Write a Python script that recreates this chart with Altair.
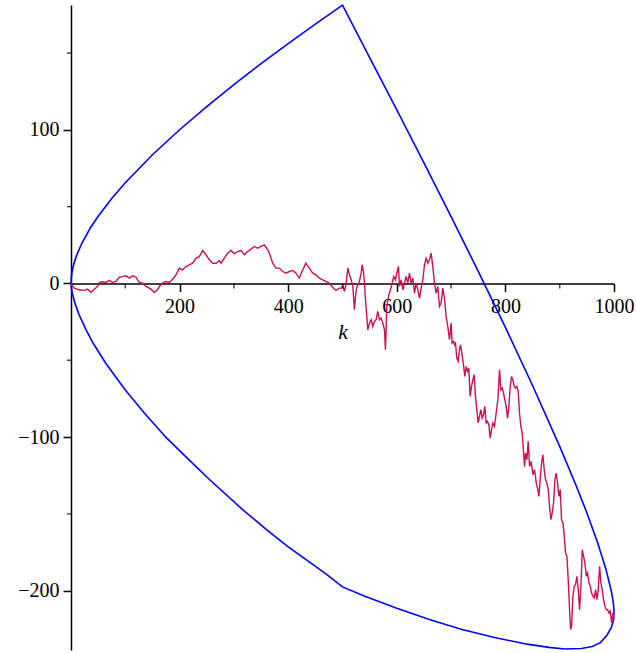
import altair as alt
import pandas as pd

# ---------------- data ----------------
walk_k = [0, 6, 15, 24.5, 30.7, 36.8, 42.9, 49.1, 52.2, 58.3, 64.4, 70.6, 76.7, 82.8, 89, 95.1,
          101.3, 107.4, 113.5, 119.7, 125.8, 131.9, 138.1, 147.3, 153.4, 159.6, 162.6, 168.8,
          174.9, 181, 187.2, 193.3, 199.5, 205.6, 211.7, 217.9, 224, 230.2, 236.3, 242.4,
          248.6, 254.8, 260.9, 267.1, 273.2, 276.3, 282.4, 288.5, 294.7, 300.8, 307, 313.1,
          319.2, 325.4, 331.5, 337.7, 343.8, 349.9, 356.1, 362.2, 365.3, 371.4, 377.6, 383.7,
          389.8, 396, 402.1, 408.3, 414.4, 420.5, 426.7, 432.8, 439, 445.1, 451.2, 457.4,
          463.5, 469.7, 475.8, 481.9, 488.1, 494.2, 499.1,
          500.5, 503.6, 506.7, 509.8, 512.8, 515.9, 519.0, 522.0, 525.1, 528.2, 531.2, 534.3,
          536.2, 538.6, 540.5, 542.3, 544.8, 546.6, 549.7, 552.8, 555.8, 558.9, 562.0, 565.0,
          568.1, 571.2, 574.2, 577.3, 579.1, 581.6, 585.3, 588.4, 591.4, 594.5, 597.6, 600.6,
          603.1, 604.9, 608.0, 611.1, 614.1, 617.2, 620.3, 623.3, 626.4, 629.5, 632.6, 635.6,
          638.7, 641.8, 644.8, 647.9, 651.0, 654.0, 657.1, 660.2, 663.2, 666.3, 669.4, 672.4,
          675.5, 678.6, 681.6, 684.7, 687.8, 690.8, 693.9, 697.0,
          700.1, 701.9, 704.4, 706.2, 708.1, 710.5, 713.0, 715.5, 717.3, 719.8, 722.8, 725.3,
          727.7, 730.2, 732.6, 735.1, 737.6, 740.0, 742.5, 744.9, 747.4, 749.8, 752.3, 754.8,
          757.2, 759.7, 762.1, 764.6, 767.0, 769.5, 772.0, 774.4, 776.9, 779.9, 783.0, 786.1,
          789.2, 791.6, 794.1, 796.5, 799.0, 801.4, 803.9, 806.4, 808.8, 811.3, 813.7, 816.2,
          818.6, 821.1, 823.6, 826.0, 828.5, 830.9,
          832.2, 835.3, 837.1, 839.6, 842.0, 844.5, 847.5, 850.6, 853.7, 856.8, 859.8, 861.7,
          864.1, 866.6, 869.0, 871.5, 873.9, 876.4, 878.9, 881.3, 883.8, 886.2, 888.7, 891.2,
          893.6, 896.1, 898.5, 901.0, 903.4, 905.9, 908.4, 910.8, 913.3, 915.7, 918.2, 920.0,
          921.9, 924.3, 926.8, 929.2, 931.7, 934.2, 936.6, 939.1, 941.5, 944.0, 946.4, 948.9,
          951.3, 953.8, 956.3, 958.7, 961.2, 963.6, 966.1, 968.6, 971.0, 973.5, 975.9, 978.4,
          980.8, 983.3, 985.7, 988.2, 990.7, 993.1, 995.6, 998.0, 999.9]
walk_v = [0, -3.0, -4.1, -4.5, -3.7, -5.8, -3.7, -1.9, 0.7, 1.1, 0.7, 2.0, 0.7, 1.3, 4.1, 4.5,
          5.0, 3.5, 5.0, 4.1, 0.7, 0.2, -1.9, -3.7, -5.8, -4.1, -1.9, 0.2,
          1.3, 0.7, 2.8, 5.6, 9.9, 8.9, 11.0, 12.1, 13.2, 16.4, 17.5, 21.4,
          18.7, 15.4, 13.2, 13.2, 15.0, 13.2, 16.5, 19.7, 21.5, 19.3, 20.8, 21.5,
          18.7, 20.8, 22.4, 24.1, 23.0, 24.1, 25.2, 21.9, 19.7, 13.2, 10.0, 10.0,
          7.8, 6.7, 7.8, 8.5, 6.7, 3.5, 8.9, 13.2, 10.0, 6.7, 5.6, 3.5,
          2.4, 1.3, 0.2, -2.4, -4.5, -3.0, -3.0,
          -0.9, -5.2, 0.2, 10.0, 5.7, 2.4, -1.9, -17.1, -4.1, -0.9, 1.3, 6.7,
          12.2, 7.8, 0.2, -10.6, -21.5, -30.1, -25.8, -23.6, -28.0, -24.7, -23.6, -18.2,
          -23.6, -22.5, -25.8, -30.1, -43.1, -14.9, -7.4, -4.1, 0.2, 4.6, 2.4, 7.8,
          11.1, -1.9, 2.4, -4.1, 0.2, 4.6, 0.2, 6.7, 0.2, 3.5, -6.3, 0.2,
          -4.1, -9.5, -3.0, 2.4, 12.2, 16.5, 13.2, 15.4, 19.8, 11.1, 0.2, -6.3,
          -1.9, -14.9, -12.8, -3.0, -9.5, -21.5, -28.0, -36.6,
          -25.8, -38.8, -37.7, -39.9, -38.8, -48.6, -50.7, -43.1, -39.9, -45.3, -52.9, -60.5,
          -54.0, -57.2, -55.1, -73.5, -67.0, -62.7, -59.4, -73.5, -82.2, -90.8, -86.5, -82.2,
          -87.6, -85.4, -80.0, -90.8, -89.8, -91.9, -100.6, -95.2, -90.8, -93.0, -84.3, -75.7,
          -56.1, -69.2, -68.1, -71.3, -75.7, -80.0, -87.6, -80.0, -67.0, -60.5, -62.7, -67.0,
          -68.1, -67.0, -70.2, -84.3, -93.0, -97.3,
          -103.9, -119.1, -110.4, -114.7, -102.8, -119.1, -115.8, -124.5, -121.2, -129.9, -134.2, -138.6,
          -127.7, -116.9, -111.5, -121.2, -127.7, -129.9, -134.2, -145.1, -153.8, -149.4, -142.9, -127.7,
          -123.4, -129.9, -138.6, -134.2, -153.8, -155.9, -164.6, -175.4, -177.6, -192.8, -212.3, -225.3,
          -223.2, -203.6, -197.1, -196.0, -190.6, -199.3, -212.3, -197.1, -173.3, -177.6, -182.0, -190.6,
          -188.5, -194.9, -197.1, -201.5, -203.6, -204.7, -199.3, -205.8, -199.3, -184.1, -194.9, -199.3,
          -205.8, -210.1, -212.3, -212.3, -214.5, -213.4, -221.0, -214.5, -218.8]

# blue boundary, traced in four pieces around the closed curve
upper_left_k = [0, 1, 2, 5, 10, 20, 35, 50, 75, 100, 150, 200, 250, 300, 350, 400, 450, 500]
upper_left_v = [0, 5.4, 7.8, 12.5, 18.0, 26.2, 35.8, 43.8, 55.4, 65.6, 83.8, 100.1, 115.2,
                129.5, 143.1, 156.2, 168.9, 181.2]
upper_right_k = [550, 600, 650, 700, 750, 800, 850, 900, 930, 950, 970, 985, 995, 998, 999.5, 1000]
upper_right_v = [147, 113, 78.5, 43.5, 7.9, -28.6, -66.4, -106, -131.3, -149.3, -168.9,
                 -185.8, -200.2, -206, -210.5, -214]
lower_right_k = [999.5, 998, 995, 987, 975, 960, 940, 910, 880, 840, 780, 720, 660, 600, 540, 500]
lower_right_v = [-217.5, -220.5, -224, -229, -233.8, -236.3, -237.6, -237.9, -236.9, -234.8,
                 -230.5, -225.2, -218.8, -211.5, -203.5, -197.5]
lower_left_k = [470, 440, 400, 360, 316, 255, 215, 175, 135, 100, 64, 40, 28, 15, 8, 3, 1, 0]
lower_left_v = [-189.2, -181.5, -171.5, -160.2, -147.2, -127.6, -114, -100.2, -84.3, -69.4,
                -51.9, -38.4, -30.4, -20.4, -13.6, -7.2, -3.6, 0]

x_major = [200, 400, 600, 800, 1000]
x_minor = [100, 300, 500, 700, 900]
y_major = [-200, -100, 0, 100]
y_minor = [-150, -50, 50, 150]

# ---------------- tables ----------------
walk = pd.DataFrame({"k": walk_k, "v": walk_v})
bk = upper_left_k + upper_right_k + lower_right_k + lower_left_k
bv = upper_left_v + upper_right_v + lower_right_v + lower_left_v
bound = pd.DataFrame({"k": bk, "v": bv, "o": list(range(len(bk)))})

W, H = 543, 645
YMIN, YMAX = -238.6, 181.3
y0_px = H * YMAX / (YMAX - YMIN)
x_axis_offset = -(H - y0_px)

FONT = "Liberation Serif"
xscale = alt.Scale(domain=[0, 1000], nice=False, zero=False)
yscale = alt.Scale(domain=[YMIN, YMAX], nice=False, zero=False)

x_axis = alt.Axis(values=x_major, format="d", offset=x_axis_offset, title="k", grid=False,
                  domainColor="black", domainWidth=1.5, tickColor="black", tickWidth=1.5,
                  tickSize=8, labelFont=FONT, labelFontSize=20, labelColor="black",
                  labelPadding=5, labelFlush=False, labelOverlap=False,
                  titleFont=FONT, titleFontSize=22, titleFontStyle="italic",
                  titleFontWeight="normal", titleColor="black", titlePadding=5)
y_axis = alt.Axis(values=y_major, format="d", title=None, grid=False,
                  domainColor="black", domainWidth=1.5, tickColor="black", tickWidth=1.5,
                  tickSize=8, labelFont=FONT, labelFontSize=20, labelColor="black",
                  labelPadding=4, labelFlush=False, labelOverlap=False)

walk_layer = alt.Chart(walk).mark_line(color="#cc1050", strokeWidth=1.4).encode(
    x=alt.X("k:Q", scale=xscale, axis=x_axis),
    y=alt.Y("v:Q", scale=yscale, axis=y_axis),
)

bound_layer = alt.Chart(bound).mark_line(color="#0000ff", strokeWidth=1.6).encode(
    x=alt.X("k:Q", scale=xscale),
    y=alt.Y("v:Q", scale=yscale),
    order=alt.Order("o:Q"),
)

xminor_layer = alt.Chart(pd.DataFrame({"t": x_minor})).mark_tick(
    orient="vertical", size=5, thickness=1.5, color="black", yOffset=2.5
).encode(
    x=alt.X("t:Q", scale=xscale),
    y=alt.datum(0),
)

yminor_layer = alt.Chart(pd.DataFrame({"t": y_minor})).mark_tick(
    orient="horizontal", size=4, thickness=1.5, color="black", xOffset=-2
).encode(
    y=alt.Y("t:Q", scale=yscale),
    x=alt.datum(0),
)

chart = alt.layer(bound_layer, walk_layer, xminor_layer, yminor_layer).properties(
    width=W, height=H,
    autosize=alt.AutoSizeParams(type="none"),
    padding={"left": 71, "top": 5, "right": 22, "bottom": 3},
    background="white",
).configure_view(strokeWidth=0)

chart.save("out.html", embed_options={"renderer": "svg", "actions": False})
